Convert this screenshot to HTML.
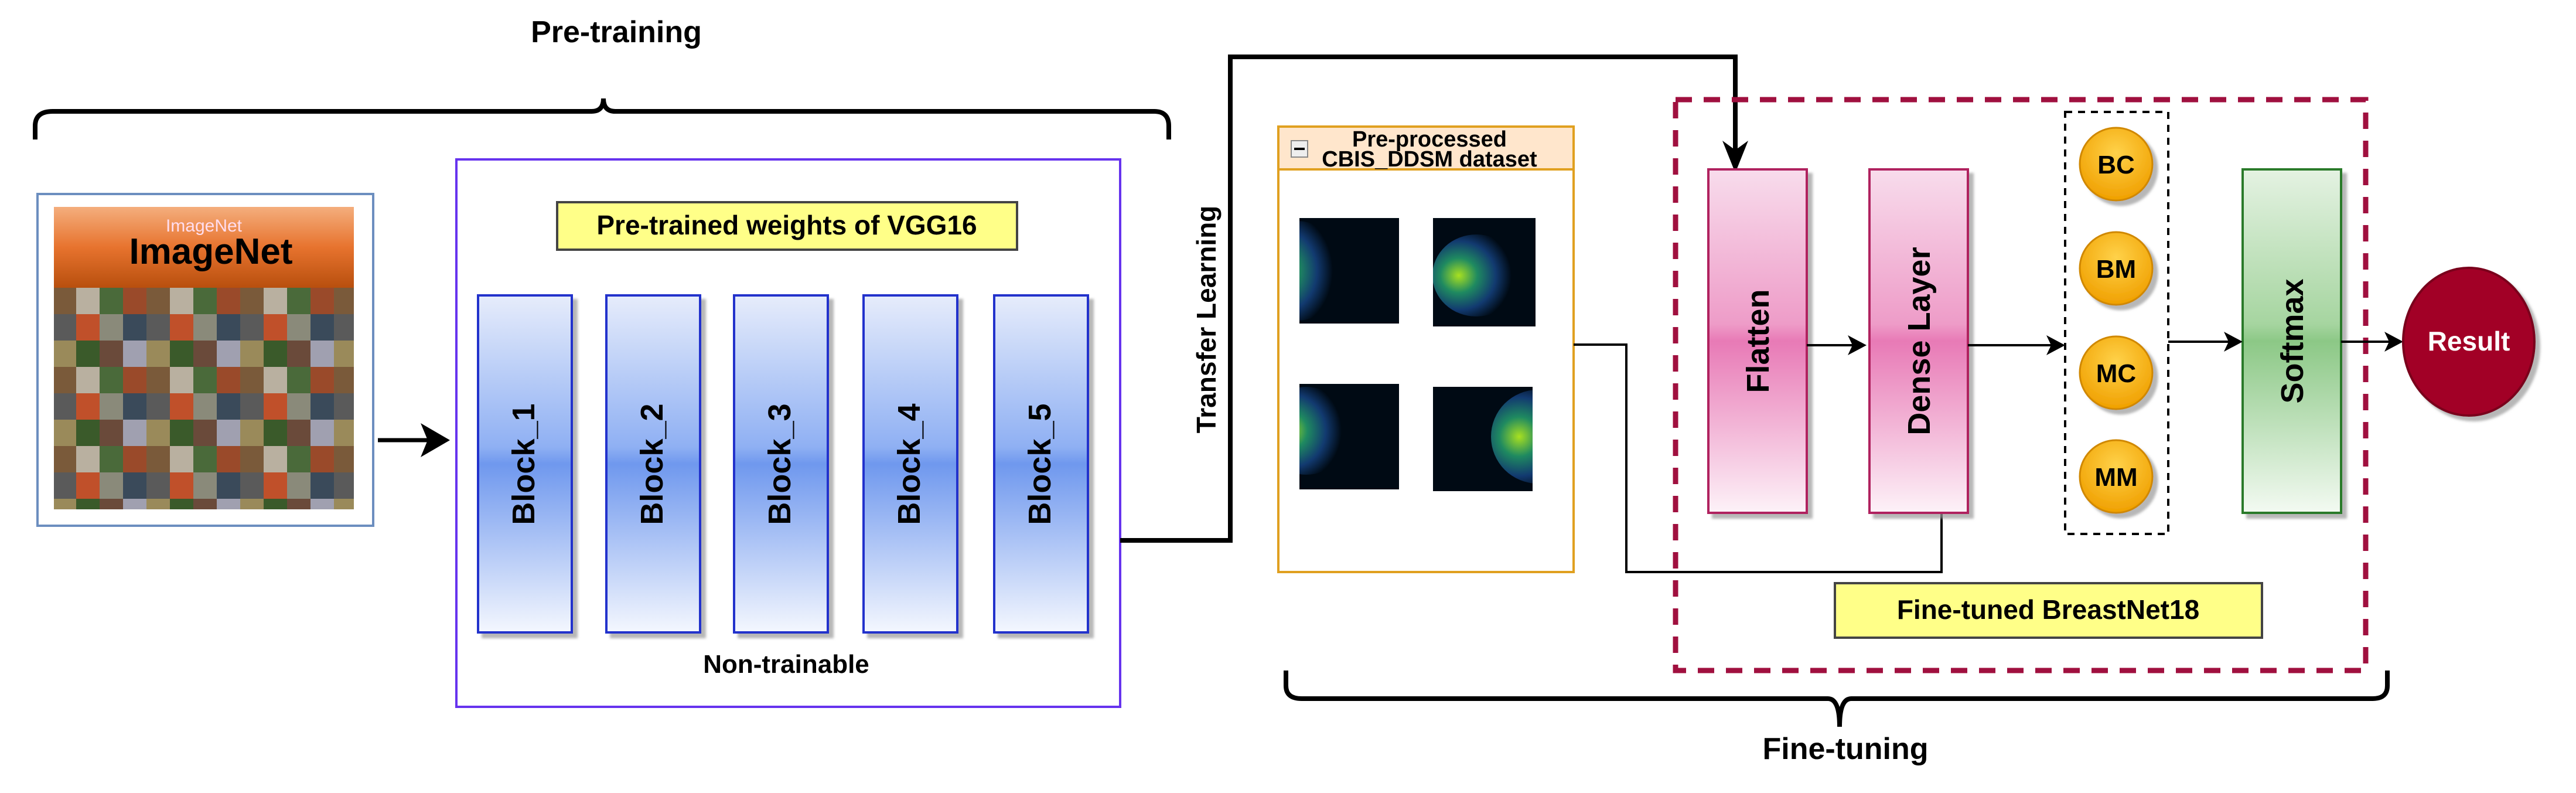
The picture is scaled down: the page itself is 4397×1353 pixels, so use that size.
<!DOCTYPE html>
<html><head><meta charset="utf-8"><style>html,body{margin:0;padding:0;background:#fff}svg{display:block}text{font-family:"Liberation Sans",Arial,sans-serif}</style></head><body>
<svg width="4397" height="1353" viewBox="0 0 4397 1353" xmlns="http://www.w3.org/2000/svg">
<defs>
<linearGradient id="blue" x1="0" y1="0" x2="0" y2="1"><stop offset="0" stop-color="#e6ecfb"/><stop offset="0.45" stop-color="#8fb0f3"/><stop offset="0.5" stop-color="#6f98ee"/><stop offset="1" stop-color="#f4f7fe"/></linearGradient>
<linearGradient id="pink" x1="0" y1="0" x2="0" y2="1"><stop offset="0" stop-color="#f8dcec"/><stop offset="0.45" stop-color="#ee9cc8"/><stop offset="0.5" stop-color="#e87ab6"/><stop offset="1" stop-color="#fdf2f8"/></linearGradient>
<linearGradient id="green" x1="0" y1="0" x2="0" y2="1"><stop offset="0" stop-color="#e4f2e2"/><stop offset="0.45" stop-color="#a6d5a0"/><stop offset="0.5" stop-color="#8cc886"/><stop offset="1" stop-color="#f3faf2"/></linearGradient>
<linearGradient id="orange" x1="0" y1="0" x2="0" y2="1"><stop offset="0" stop-color="#f4ae7d"/><stop offset="0.5" stop-color="#e7732e"/><stop offset="1" stop-color="#b84f0e"/></linearGradient>
<radialGradient id="circ" cx="0.5" cy="0.35" r="0.65"><stop offset="0" stop-color="#ffd24a"/><stop offset="1" stop-color="#f0a000"/></radialGradient>
<radialGradient id="blob" cx="0.3" cy="0.5" r="0.6"><stop offset="0" stop-color="#a8e020"/><stop offset="0.35" stop-color="#1f8a60"/><stop offset="0.7" stop-color="#123a70"/><stop offset="1" stop-color="#000a14"/></radialGradient>
<clipPath id="c1"><rect x="2218" y="372" width="170" height="180"/></clipPath>
<clipPath id="c2"><rect x="2446" y="372" width="175" height="185"/></clipPath>
<clipPath id="c3"><rect x="2218" y="655" width="170" height="180"/></clipPath>
<clipPath id="c4"><rect x="2446" y="660" width="170" height="178"/></clipPath>
<pattern id="grid" width="160" height="135" patternUnits="userSpaceOnUse" x="90" y="491">
<rect width="40" height="45" fill="#7a5a3a"/><rect x="40" width="40" height="45" fill="#b9b0a0"/><rect x="80" width="40" height="45" fill="#4a6a3a"/><rect x="120" width="40" height="45" fill="#9a4a2a"/>
<rect y="45" width="40" height="45" fill="#5a5a5a"/><rect x="40" y="45" width="40" height="45" fill="#c0502a"/><rect x="80" y="45" width="40" height="45" fill="#8a8a7a"/><rect x="120" y="45" width="40" height="45" fill="#3a4a5a"/>
<rect y="90" width="40" height="45" fill="#9a8a5a"/><rect x="40" y="90" width="40" height="45" fill="#3a5a2a"/><rect x="80" y="90" width="40" height="45" fill="#6a4a3a"/><rect x="120" y="90" width="40" height="45" fill="#a0a0b0"/>
</pattern>
<filter id="sh"><feDropShadow dx="8" dy="8" stdDeviation="2" flood-color="#999" flood-opacity="0.7"/></filter>
</defs>

<text x="1052" y="72" font-size="52" font-weight="bold" text-anchor="middle">Pre-training</text>
<path d="M60,238 L60,215 Q60,190 90,190 L1010,190 Q1030,190 1030,168 Q1030,190 1050,190 L1970,190 Q1995,190 1995,215 L1995,238" fill="none" stroke="#000" stroke-width="8"/>

<rect x="64" y="331" width="573" height="566" fill="#fff" stroke="#6c8ebf" stroke-width="4"/>
<rect x="92" y="353" width="512" height="138" fill="url(#orange)"/>
<text x="348" y="395" font-size="30" fill="#fde" text-anchor="middle">ImageNet</text>
<text x="360" y="450" font-size="62" font-weight="bold" text-anchor="middle" font-family="Liberation Mono,monospace">ImageNet</text>
<rect x="92" y="491" width="512" height="378" fill="url(#grid)"/>

<line x1="645" y1="751" x2="740" y2="751" stroke="#000" stroke-width="7"/>
<path d="M768,751 L718,722 L730,751 L718,780 Z" fill="#000"/>

<rect x="779" y="272" width="1133" height="934" fill="#fff" stroke="#6633ee" stroke-width="4"/>
<rect x="951" y="345" width="785" height="81" fill="#ffff88" stroke="#444" stroke-width="4"/>
<text x="1343" y="400" font-size="46" font-weight="bold" text-anchor="middle">Pre-trained weights of VGG16</text>
<g filter="url(#sh)" stroke="#2233cc" stroke-width="4">
<rect x="816" y="504" width="160" height="575" fill="url(#blue)"/>
<rect x="1035" y="504" width="160" height="575" fill="url(#blue)"/>
<rect x="1253" y="504" width="160" height="575" fill="url(#blue)"/>
<rect x="1474" y="504" width="160" height="575" fill="url(#blue)"/>
<rect x="1697" y="504" width="160" height="575" fill="url(#blue)"/>
</g>
<g font-size="54" font-weight="bold" text-anchor="middle">
<text transform="translate(912,792) rotate(-90)">Block_1</text>
<text transform="translate(1131,792) rotate(-90)">Block_2</text>
<text transform="translate(1349,792) rotate(-90)">Block_3</text>
<text transform="translate(1570,792) rotate(-90)">Block_4</text>
<text transform="translate(1793,792) rotate(-90)">Block_5</text>
</g>
<text x="1342" y="1148" font-size="44" font-weight="bold" text-anchor="middle">Non-trainable</text>

<path d="M1912,922 L2100,922 L2100,97 L2962,97 L2962,260" fill="none" stroke="#000" stroke-width="8"/>
<path d="M2962,295 L2940,240 L2962,256 L2984,240 Z" fill="#000"/>
<text transform="translate(2075,545) rotate(-90)" font-size="46" text-anchor="middle" font-weight="bold">Transfer Learning</text>

<rect x="2182" y="216" width="504" height="760" fill="#fff" stroke="#e0a020" stroke-width="4"/>
<rect x="2182" y="216" width="504" height="73" fill="#ffe6cc" stroke="#e0a020" stroke-width="4"/>
<rect x="2204" y="240" width="28" height="28" fill="#eee" stroke="#888" stroke-width="2"/><line x1="2209" y1="254" x2="2227" y2="254" stroke="#000" stroke-width="4"/>
<text x="2440" y="250" font-size="38" font-weight="bold" text-anchor="middle">Pre-processed</text>
<text x="2440" y="284" font-size="38" font-weight="bold" text-anchor="middle">CBIS_DDSM dataset</text>
<rect x="2218" y="372" width="170" height="180" fill="#000a14"/><g clip-path="url(#c1)"><ellipse cx="2215" cy="462" rx="75" ry="85" fill="url(#blob)"/></g>
<rect x="2446" y="372" width="175" height="185" fill="#000a14"/><g clip-path="url(#c2)"><ellipse cx="2520" cy="470" rx="75" ry="70" fill="url(#blob)"/></g>
<rect x="2218" y="655" width="170" height="180" fill="#000a14"/><g clip-path="url(#c3)"><ellipse cx="2230" cy="735" rx="75" ry="75" fill="url(#blob)"/></g>
<rect x="2446" y="660" width="170" height="178" fill="#000a14"/><g clip-path="url(#c4)"><ellipse cx="2625" cy="745" rx="80" ry="80" fill="url(#blob)"/></g>
<path d="M2686,588 L2776,588 L2776,976 L3314,976 L3314,875" fill="none" stroke="#000" stroke-width="4"/>

<rect x="2860" y="170" width="1178" height="974" fill="none" stroke="#a0103f" stroke-width="9" stroke-dasharray="28,20"/>
<g filter="url(#sh)">
<rect x="2916" y="289" width="168" height="586" fill="url(#pink)" stroke="#b0245e" stroke-width="4"/>
<rect x="3191" y="289" width="168" height="586" fill="url(#pink)" stroke="#b0245e" stroke-width="4"/>
<rect x="3828" y="289" width="168" height="586" fill="url(#green)" stroke="#2a7a2a" stroke-width="4"/>
</g>
<g font-size="54" font-weight="bold" text-anchor="middle">
<text transform="translate(3019,582) rotate(-90)">Flatten</text>
<text transform="translate(3294,582) rotate(-90)">Dense Layer</text>
<text transform="translate(3931,582) rotate(-90)">Softmax</text>
</g>
<line x1="3084" y1="589" x2="3170" y2="589" stroke="#000" stroke-width="4"/>
<path d="M3186,589 L3154,572 L3162,589 L3154,606 Z" fill="#000"/>
<line x1="3359" y1="589" x2="3510" y2="589" stroke="#000" stroke-width="4"/>
<path d="M3525,589 L3493,572 L3501,589 L3493,606 Z" fill="#000"/>
<rect x="3525" y="191" width="176" height="720" fill="none" stroke="#000" stroke-width="4" stroke-dasharray="12,10"/>
<g filter="url(#sh)">
<circle cx="3612" cy="280" r="62" fill="url(#circ)" stroke="#d08800" stroke-width="3"/>
<circle cx="3612" cy="458" r="62" fill="url(#circ)" stroke="#d08800" stroke-width="3"/>
<circle cx="3612" cy="636" r="62" fill="url(#circ)" stroke="#d08800" stroke-width="3"/>
<circle cx="3612" cy="813" r="62" fill="url(#circ)" stroke="#d08800" stroke-width="3"/>
</g>
<g font-size="44" font-weight="bold" text-anchor="middle">
<text x="3612" y="296">BC</text><text x="3612" y="474">BM</text><text x="3612" y="652">MC</text><text x="3612" y="829">MM</text>
</g>
<line x1="3701" y1="583" x2="3812" y2="583" stroke="#000" stroke-width="4"/>
<path d="M3828,583 L3796,566 L3804,583 L3796,600 Z" fill="#000"/>
<line x1="3996" y1="583" x2="4090" y2="583" stroke="#000" stroke-width="4"/>
<path d="M4102,583 L4070,566 L4078,583 L4070,600 Z" fill="#000"/>
<ellipse cx="4214" cy="583" rx="112" ry="126" fill="#a20025" stroke="#7a001c" stroke-width="4" filter="url(#sh)"/>
<text x="4214" y="598" font-size="46" font-weight="bold" fill="#fff" text-anchor="middle">Result</text>
<rect x="3132" y="995" width="729" height="93" fill="#ffff88" stroke="#444" stroke-width="4"/>
<text x="3496" y="1056" font-size="46" font-weight="bold" text-anchor="middle">Fine-tuned BreastNet18</text>

<path d="M2195,1144 L2195,1170 Q2195,1192 2222,1192 L3120,1192 Q3140,1192 3140,1240 Q3140,1192 3160,1192 L4050,1192 Q4075,1192 4075,1170 L4075,1144" fill="none" stroke="#000" stroke-width="8"/>
<text x="3150" y="1295" font-size="52" font-weight="bold" text-anchor="middle">Fine-tuning</text>
</svg>
</body></html>
